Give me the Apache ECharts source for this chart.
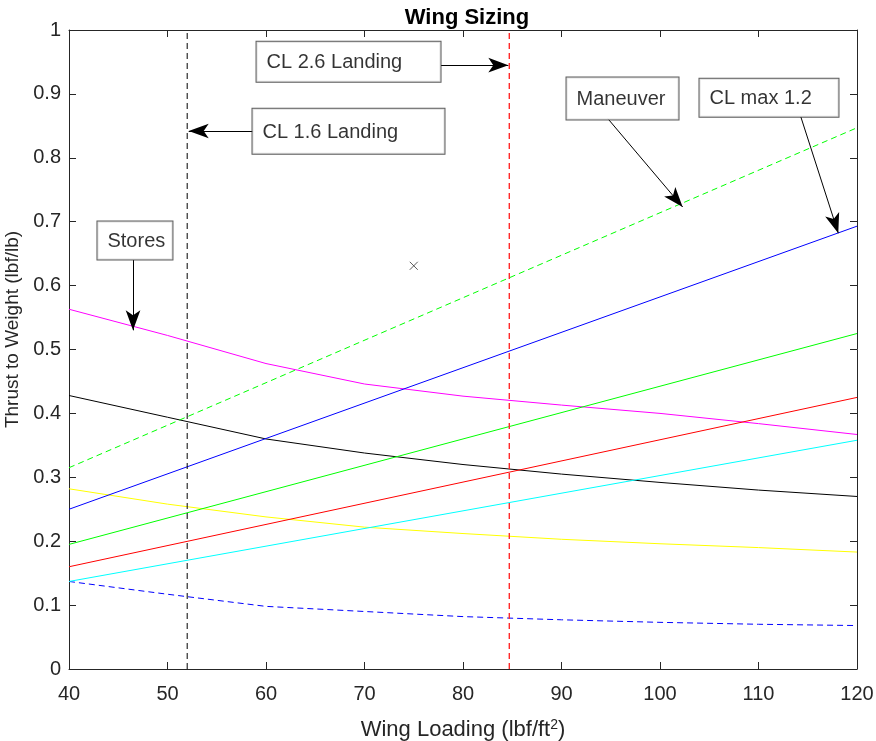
<!DOCTYPE html>
<html><head><meta charset="utf-8">
<script src="https://cdn.jsdelivr.net/npm/echarts@6/dist/echarts.min.js"></script>
<style>html,body{margin:0;padding:0;background:#fff}#c{width:876px;height:741px}</style>
</head><body><div id="c"></div>
<script>
// ---- data ----
const xs = [40, 50, 60, 70, 80, 90, 100, 110, 120];
const stores = [0.563, 0.522, 0.478, 0.446, 0.427, 0.413, 0.400, 0.384, 0.367];
const blackCurve = [0.428, 0.394, 0.360, 0.338, 0.320, 0.305, 0.292, 0.280, 0.270];
const yellowCurve = [0.282, 0.258, 0.238, 0.222, 0.212, 0.203, 0.196, 0.190, 0.183];
const blueDashed = [0.137, 0.117, 0.098, 0.090, 0.082, 0.077, 0.073, 0.070, 0.068];
const lineX = [40, 120];
const maneuver = [0.315, 0.847];
const clmax12 = [0.250, 0.693];
const greenSolid = [0.195, 0.525];
const redSolid = [0.160, 0.425];
const cyanSolid = [0.137, 0.358];
const landing16 = 52;
const landing26 = 84.7;
const designPoint = [75, 0.631];
const xTicks = [40, 50, 60, 70, 80, 90, 100, 110, 120];
const yTicks = [0, 0.1, 0.2, 0.3, 0.4, 0.5, 0.6, 0.7, 0.8, 0.9, 1];
// annotation texts and their anchor points (data units)
const annotationTexts = ['CL 2.6 Landing', 'CL 1.6 Landing', 'Maneuver', 'CL max 1.2', 'Stores'];
const annotationCorners = [[59.09, 0.981], [58.68, 0.876], [90.56, 0.925], [104.06, 0.923], [42.94, 0.6995]];
const arrowFrom = [[77.77, 0.945], [58.68, 0.842], [94.72, 0.861], [114.3, 0.864], [46.5, 0.640]];
const arrowTo = [[84.6, 0.945], [52.15, 0.842], [102.3, 0.723], [118.1, 0.682], [46.5, 0.530]];

// ---- layout / style ----
const boxSizes = [[184, 40], [192, 45], [112, 42], [139, 38], [75, 38]];
const pair = (a, b) => a.map((v, i) => [v, b[i]]);
const font = 'Liberation Sans, Arial, Helvetica, sans-serif';
const axisColor = '#262626';
function ln(data, color, dashed, width) {
  return {type: 'line', data, showSymbol: false, symbol: 'none', silent: true, animation: false,
    lineStyle: {color, width: width || 1, type: dashed ? [6, 4] : 'solid'}, z: 3};
}
const series = [
  ln(pair(xs, stores), '#ff00ff'),
  ln(pair(xs, blackCurve), '#000000'),
  ln(pair(xs, yellowCurve), '#ffff00'),
  ln(pair(xs, blueDashed), '#0000ff', true),
  ln(pair(lineX, maneuver), '#00ff00', true),
  ln(pair(lineX, clmax12), '#0000ff'),
  ln(pair(lineX, greenSolid), '#00ff00'),
  ln(pair(lineX, redSolid), '#ff0000'),
  ln(pair(lineX, cyanSolid), '#00ffff'),
  ln([[landing16, yTicks[0]], [landing16, yTicks[yTicks.length - 1]]], '#000000', true),
  ln([[landing26, yTicks[0]], [landing26, yTicks[yTicks.length - 1]]], '#ff2a2a', true, 1.4),
  {type: 'scatter', data: [designPoint], symbol: 'path://M0,0L10,10M10,0L0,10', symbolSize: 8,
    itemStyle: {color: 'none', borderColor: '#333', borderWidth: 1}, silent: true, animation: false, z: 4},
  {type: 'lines', coordinateSystem: 'cartesian2d', silent: true, animation: false, z: 5,
    symbol: ['none', 'arrow'], symbolSize: [1, [11, 20]], symbolOffset: [0, [0, 10]],
    lineStyle: {color: '#000', width: 1, opacity: 1, curveness: 0},
    data: arrowFrom.map((f, i) => ({coords: [f, arrowTo[i]]}))},
  {type: 'scatter', symbolSize: 1, silent: true, animation: false, z: 6,
    itemStyle: {color: 'rgba(0,0,0,0)'},
    data: annotationTexts.map((t, i) => {
      const v = (boxSizes[i][1] - 22) / 2;
      return {
        name: t, value: annotationCorners[i],
        label: {width: boxSizes[i][0] - 10, padding: [v + 1, 0, v - 1, 10]}
      };
    }),
    label: {show: true, position: [0, 0], align: 'left', verticalAlign: 'top', formatter: p => p.name, color: '#000',
      fontFamily: font, fontSize: 20, lineHeight: 22, backgroundColor: '#fff', borderColor: '#333333', borderWidth: 1}}
];
const chart = echarts.init(document.getElementById('c'), null, {renderer: 'canvas'});
const baseAxis = {
  axisLine: {show: true, onZero: false, lineStyle: {color: axisColor, width: 1}},
  axisTick: {show: true, inside: true, length: 7, lineStyle: {color: axisColor}},
  splitLine: {show: false}
};
chart.setOption({
  animation: false,
  title: {text: 'Wing Sizing', left: 462, top: 2, textAlign: 'center',
    textStyle: {fontFamily: font, fontSize: 22, fontWeight: 'bold', color: '#000'}},
  grid: {left: 69, right: 19, top: 30, bottom: 72, containLabel: false, outerBoundsMode: 'none'},
  xAxis: [
    Object.assign({}, baseAxis, {type: 'value', min: xTicks[0], max: xTicks[xTicks.length - 1], interval: 10,
      position: 'bottom', name: 'Wing Loading (lbf/ft{sup|2})', nameLocation: 'middle', nameGap: 49,
      nameTextStyle: {fontFamily: font, fontSize: 22, color: '#262626',
        rich: {sup: {fontFamily: font, fontSize: 14, color: '#262626', verticalAlign: 'bottom', padding: [0, 0, 10, 0]}}},
      axisLabel: {fontFamily: font, fontSize: 20, color: '#262626', margin: 15}}),
    Object.assign({}, baseAxis, {type: 'value', min: xTicks[0], max: xTicks[xTicks.length - 1], interval: 10,
      position: 'top', axisLabel: {show: false}})
  ],
  yAxis: [
    Object.assign({}, baseAxis, {type: 'value', min: yTicks[0], max: yTicks[yTicks.length - 1], interval: 0.1,
      position: 'left', name: 'Thrust to Weight (lbf/lb)', nameLocation: 'middle', nameGap: 45,
      nameTextStyle: {fontFamily: font, fontSize: 19, color: '#262626', padding: [0, 0, 0, 40]},
      axisLabel: {fontFamily: font, fontSize: 20, color: '#262626', margin: 8}}),
    Object.assign({}, baseAxis, {type: 'value', min: yTicks[0], max: yTicks[yTicks.length - 1], interval: 0.1,
      position: 'right', axisLabel: {show: false}})
  ],
  series
});
</script></body></html>
